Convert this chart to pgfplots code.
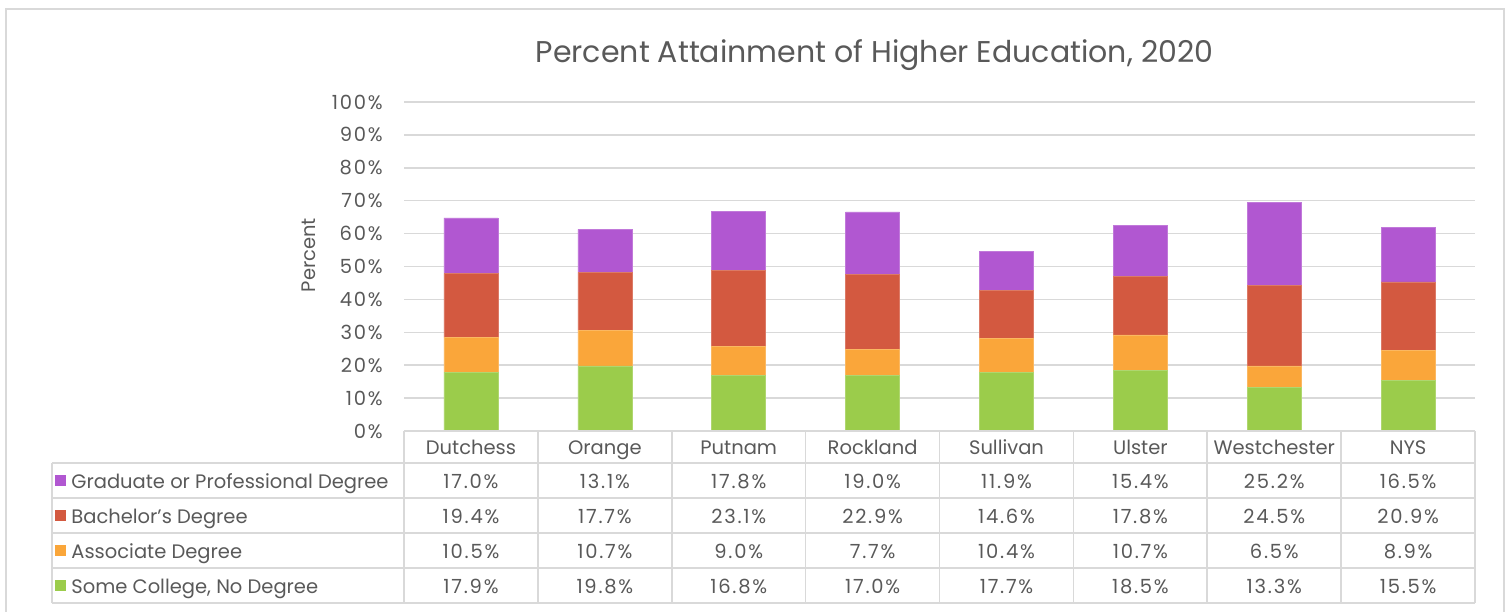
\documentclass[border=0pt]{standalone}
\usepackage{fontspec}
\setmainfont{Poppins}
\newfontfamily\numfont[LetterSpace=9]{Poppins}
\usepackage{pgfplots}
\usepackage{pgfplotstable}
\pgfplotsset{compat=1.18}
\definecolor{cgrad}{RGB}{177,87,209}
\definecolor{cbach}{RGB}{211,89,64}
\definecolor{cassoc}{RGB}{250,166,58}
\definecolor{csome}{RGB}{155,204,75}
\definecolor{ctext}{RGB}{89,89,89}
\definecolor{cgrid}{RGB}{217,217,217}
\pgfplotstableread{
x name some assoc bach grad
0 Dutchess 17.9 10.5 19.4 17.0
1 Orange 19.8 10.7 17.7 13.1
2 Putnam 16.8 9.0 23.1 17.8
3 Rockland 17.0 7.7 22.9 19.0
4 Sullivan 17.7 10.4 14.6 11.9
5 Ulster 18.5 10.7 17.8 15.4
6 Westchester 13.3 6.5 24.5 25.2
7 NYS 15.5 8.9 20.9 16.5
}\data
\newcommand{\tf}{\fontsize{9.75}{11}\selectfont}
\newcommand{\nf}{\numfont\fontsize{9.75}{11}\selectfont}
\begin{document}
\begin{tikzpicture}
\useasboundingbox (0,-305.5pt) rectangle (754.5pt,0);
\begin{axis}[
  at={(202pt,-215.5pt)}, anchor=south west,
  width=535.5pt, height=164.5pt, scale only axis,
  xmin=-0.5, xmax=7.5, ymin=0, ymax=100,
  ytick={0,10,...,100}, xtick=\empty,
  ymajorgrids, grid style={cgrid, line width=0.75pt},
  axis line style={draw=none},
  major tick length=0pt,
  /pgf/number format/assume math mode=true,
  yticklabel={\pgfmathprintnumber{\tick}\%},
  yticklabel style={font=\nf, text=ctext, anchor=east, inner sep=0pt, xshift=-10.5pt},
  ybar stacked, bar width=27pt,
  clip=false,
]
\addplot[fill=csome, draw=csome!80!white, line width=0.3pt] table[x=x,y=some]{\data};
\addplot[fill=cassoc, draw=cassoc!80!white, line width=0.3pt] table[x=x,y=assoc]{\data};
\addplot[fill=cbach, draw=cbach!80!white, line width=0.3pt] table[x=x,y=bach]{\data};
\addplot[fill=cgrad, draw=cgrad!80!white, line width=0.3pt] table[x=x,y=grad]{\data};
\end{axis}
\begin{scope}[x=0.5pt, y=-0.5pt]
  % outer frame
  \draw[cgrid, line width=0.8pt] (6,625) -- (6,9) -- (1504,9) -- (1504,625);
  % title and y label
  \node[text=ctext, font=\fontsize{15}{17}\selectfont, anchor=base] at (874.5,62) {Percent Attainment of Higher Education, 2020};
  \node[text=ctext, font=\tf, rotate=90] at (309,255) {Percent};
  % table grid
  \draw[cgrid, line width=0.8pt] (404,431) -- (1475,431);
  \foreach \yy in {463,498,533,568,603} \draw[cgrid, line width=0.8pt] (52,\yy) -- (1475,\yy);
  \draw[cgrid, line width=0.8pt] (52,463) -- (52,603);
  \foreach \k in {0,...,8} \draw[cgrid, line width=0.8pt] ({404+133.875*\k},431) -- ({404+133.875*\k},603);
  % legend column
  \fill[cgrad]  (55,475) rectangle (66,486);
  \fill[cbach]  (55,510) rectangle (66,521);
  \fill[cassoc] (55,545) rectangle (66,556);
  \fill[csome]  (55,580) rectangle (66,591);
  \node[text=ctext, font=\tf, anchor=base west, inner sep=0pt] at (71,488) {Graduate or Professional Degree};
  \node[text=ctext, font=\tf, anchor=base west, inner sep=0pt] at (71,523) {Bachelor\symbol{39}s Degree};
  \node[text=ctext, font=\tf, anchor=base west, inner sep=0pt] at (71,558) {Associate Degree};
  \node[text=ctext, font=\tf, anchor=base west, inner sep=0pt] at (71,593) {Some College, No Degree};
  % table values
  \foreach \i in {0,...,7}{
    \pgfplotstablegetelem{\i}{name}\of\data
    \node[text=ctext, font=\tf, anchor=base, inner sep=0pt] at ({471+133.875*\i},454) {\pgfplotsretval};
    \pgfplotstablegetelem{\i}{grad}\of\data
    \node[text=ctext, font=\nf, anchor=base, inner sep=0pt] at ({471+133.875*\i},488) {\pgfplotsretval\%};
    \pgfplotstablegetelem{\i}{bach}\of\data
    \node[text=ctext, font=\nf, anchor=base, inner sep=0pt] at ({471+133.875*\i},523) {\pgfplotsretval\%};
    \pgfplotstablegetelem{\i}{assoc}\of\data
    \node[text=ctext, font=\nf, anchor=base, inner sep=0pt] at ({471+133.875*\i},558) {\pgfplotsretval\%};
    \pgfplotstablegetelem{\i}{some}\of\data
    \node[text=ctext, font=\nf, anchor=base, inner sep=0pt] at ({471+133.875*\i},593) {\pgfplotsretval\%};
  }
\end{scope}
\end{tikzpicture}
\end{document}
